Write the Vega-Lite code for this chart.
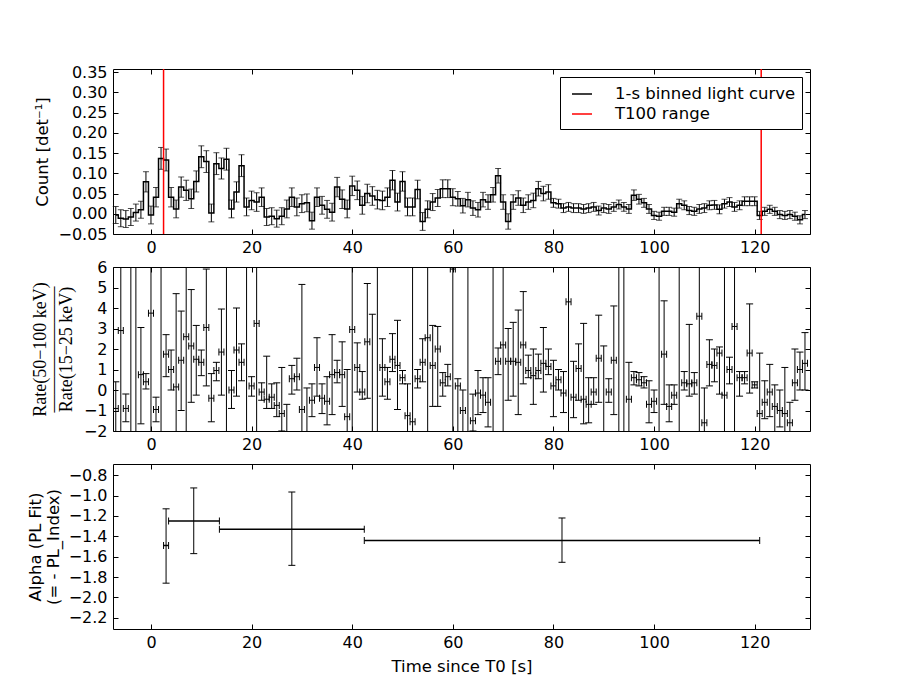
{
  "$schema": "https://vega.github.io/schema/vega-lite/v6.json",
  "background": "white",
  "padding": {"left": 26, "top": 63, "right": 5, "bottom": 5},
  "bounds": "flush",
  "spacing": 33,
  "datasets": {
    "lc": [
      {"t":-7,"c":-0.003,"e":0.021},{"t":-6,"c":-0.011,"e":0.021},{"t":-5,"c":-0.013,"e":0.021},{"t":-4,"c":-0.008,"e":0.021},
      {"t":-3,"c":0.003,"e":0.021},{"t":-2,"c":0.010,"e":0.021},{"t":-1,"c":0.079,"e":0.025},{"t":0,"c":-0.003,"e":0.022},
      {"t":1,"c":0.041,"e":0.024},{"t":2,"c":0.137,"e":0.027},{"t":3,"c":0.133,"e":0.027},{"t":4,"c":0.041,"e":0.024},
      {"t":5,"c":0.012,"e":0.022},{"t":6,"c":0.066,"e":0.025},{"t":7,"c":0.058,"e":0.025},{"t":8,"c":0.037,"e":0.024},
      {"t":9,"c":0.080,"e":0.026},{"t":10,"c":0.141,"e":0.027},{"t":11,"c":0.129,"e":0.027},{"t":12,"c":0.002,"e":0.022},
      {"t":13,"c":0.124,"e":0.027},{"t":14,"c":0.112,"e":0.026},{"t":15,"c":0.135,"e":0.027},{"t":16,"c":0.012,"e":0.022},
      {"t":17,"c":0.054,"e":0.025},{"t":18,"c":0.119,"e":0.027},{"t":19,"c":0.017,"e":0.022},{"t":20,"c":0.033,"e":0.023},
      {"t":21,"c":0.029,"e":0.023},{"t":22,"c":0.041,"e":0.023},{"t":23,"c":-0.008,"e":0.021},{"t":24,"c":-0.006,"e":0.021},
      {"t":25,"c":-0.012,"e":0.021},{"t":26,"c":-0.006,"e":0.021},{"t":27,"c":0.012,"e":0.022},{"t":28,"c":0.041,"e":0.023},
      {"t":29,"c":0.017,"e":0.022},{"t":30,"c":0.025,"e":0.022},{"t":31,"c":0.027,"e":0.022},{"t":32,"c":-0.017,"e":0.021},
      {"t":33,"c":0.041,"e":0.023},{"t":34,"c":0.021,"e":0.022},{"t":35,"c":0.011,"e":0.022},{"t":36,"c":0.004,"e":0.022},
      {"t":37,"c":0.066,"e":0.024},{"t":38,"c":0.036,"e":0.023},{"t":39,"c":0.012,"e":0.022},{"t":40,"c":0.069,"e":0.024},
      {"t":41,"c":0.058,"e":0.023},{"t":42,"c":0.021,"e":0.022},{"t":43,"c":0.050,"e":0.023},{"t":44,"c":0.044,"e":0.023},
      {"t":45,"c":0.035,"e":0.023},{"t":46,"c":0.033,"e":0.023},{"t":47,"c":0.041,"e":0.023},{"t":48,"c":0.083,"e":0.024},
      {"t":49,"c":0.029,"e":0.022},{"t":50,"c":0.080,"e":0.024},{"t":51,"c":0.017,"e":0.022},{"t":52,"c":0.017,"e":0.022},
      {"t":53,"c":0.060,"e":0.023},{"t":54,"c":-0.019,"e":0.022},{"t":55,"c":0.011,"e":0.021},{"t":56,"c":0.029,"e":0.021},
      {"t":57,"c":0.039,"e":0.021},{"t":58,"c":0.062,"e":0.022},{"t":59,"c":0.062,"e":0.022},{"t":60,"c":0.041,"e":0.021},
      {"t":61,"c":0.037,"e":0.018},{"t":62,"c":0.020,"e":0.018},{"t":63,"c":0.035,"e":0.018},{"t":64,"c":0.014,"e":0.018},
      {"t":65,"c":0.010,"e":0.018},{"t":66,"c":0.035,"e":0.018},{"t":67,"c":0.029,"e":0.018},{"t":68,"c":0.047,"e":0.018},
      {"t":69,"c":0.094,"e":0.018},{"t":70,"c":0.029,"e":0.018},{"t":71,"c":-0.019,"e":0.019},{"t":72,"c":0.029,"e":0.018},
      {"t":73,"c":0.039,"e":0.018},{"t":74,"c":0.021,"e":0.018},{"t":75,"c":0.029,"e":0.018},{"t":76,"c":0.033,"e":0.018},
      {"t":77,"c":0.062,"e":0.018},{"t":78,"c":0.050,"e":0.018},{"t":79,"c":0.054,"e":0.018},{"t":80,"c":0.027,"e":0.011},
      {"t":81,"c":0.025,"e":0.011},{"t":82,"c":0.014,"e":0.011},{"t":83,"c":0.017,"e":0.011},{"t":84,"c":0.014,"e":0.011},
      {"t":85,"c":0.014,"e":0.011},{"t":86,"c":0.012,"e":0.011},{"t":87,"c":0.014,"e":0.011},{"t":88,"c":0.017,"e":0.011},
      {"t":89,"c":0.008,"e":0.011},{"t":90,"c":0.014,"e":0.011},{"t":91,"c":0.012,"e":0.011},{"t":92,"c":0.017,"e":0.011},
      {"t":93,"c":0.023,"e":0.011},{"t":94,"c":0.017,"e":0.011},{"t":95,"c":0.012,"e":0.011},{"t":96,"c":0.046,"e":0.013},
      {"t":97,"c":0.036,"e":0.012},{"t":98,"c":0.027,"e":0.011},{"t":99,"c":0.012,"e":0.011},{"t":100,"c":-0.004,"e":0.010},
      {"t":101,"c":-0.006,"e":0.010},{"t":102,"c":0.006,"e":0.010},{"t":103,"c":0.006,"e":0.010},{"t":104,"c":0.004,"e":0.010},
      {"t":105,"c":0.025,"e":0.011},{"t":106,"c":0.021,"e":0.011},{"t":107,"c":0.008,"e":0.010},{"t":108,"c":0.006,"e":0.010},
      {"t":109,"c":0.012,"e":0.011},{"t":110,"c":0.014,"e":0.011},{"t":111,"c":0.021,"e":0.011},{"t":112,"c":0.022,"e":0.011},
      {"t":113,"c":0.011,"e":0.011},{"t":114,"c":0.025,"e":0.011},{"t":115,"c":0.029,"e":0.011},{"t":116,"c":0.017,"e":0.011},
      {"t":117,"c":0.021,"e":0.011},{"t":118,"c":0.031,"e":0.011},{"t":119,"c":0.031,"e":0.011},{"t":120,"c":0.031,"e":0.011},
      {"t":121,"c":-0.004,"e":0.010},{"t":122,"c":0.006,"e":0.010},{"t":123,"c":0.011,"e":0.010},{"t":124,"c":0.006,"e":0.010},
      {"t":125,"c":-0.002,"e":0.010},{"t":126,"c":-0.004,"e":0.010},{"t":127,"c":-0.002,"e":0.010},{"t":128,"c":-0.006,"e":0.010},
      {"t":129,"c":-0.015,"e":0.010},{"t":130,"c":-0.002,"e":0.010}
    ],
    "t100": [{"t": 2.5}, {"t": 121.3}],
    "hr": [
      {"t":-7,"t0":-7.5,"t1":-6.5,"v":-0.9,"lo":-10,"hi":0.4},{"t":-6,"t0":-6.5,"t1":-5.5,"v":2.9,"lo":-10,"hi":20},
      {"t":-5,"t0":-5.5,"t1":-4.5,"v":-0.9,"lo":-1.55,"hi":-0.2},{"t":-4,"t0":-4.5,"t1":-3.5,"v":8,"lo":-10,"hi":20},
      {"t":-3,"t0":-3.5,"t1":-2.5,"v":8,"lo":-10,"hi":20},{"t":-2,"t0":-2.5,"t1":-1.5,"v":0.75,"lo":-1.65,"hi":3.05},
      {"t":-1,"t0":-1.5,"t1":-0.5,"v":0.4,"lo":0.05,"hi":0.8},{"t":0,"t0":-0.5,"t1":0.5,"v":3.75,"lo":-10,"hi":20},
      {"t":1,"t0":0.5,"t1":1.5,"v":-0.95,"lo":-1.55,"hi":-0.35},{"t":2,"t0":1.5,"t1":2.5,"v":8,"lo":-10,"hi":20},
      {"t":3,"t0":2.5,"t1":3.5,"v":1.75,"lo":0.65,"hi":2.7},{"t":4,"t0":3.5,"t1":4.5,"v":1.0,"lo":0.0,"hi":1.95},
      {"t":5,"t0":4.5,"t1":5.5,"v":0.15,"lo":-10,"hi":4.7},{"t":6,"t0":5.5,"t1":6.5,"v":1.45,"lo":-1.0,"hi":3.85},
      {"t":7,"t0":6.5,"t1":7.5,"v":2.6,"lo":-10,"hi":20},{"t":8,"t0":7.5,"t1":8.5,"v":2.15,"lo":-0.6,"hi":4.9},
      {"t":9,"t0":8.5,"t1":9.5,"v":1.5,"lo":-0.25,"hi":3.15},{"t":10,"t0":9.5,"t1":10.5,"v":1.35,"lo":0.7,"hi":1.95},
      {"t":11,"t0":10.5,"t1":11.5,"v":3.05,"lo":0.2,"hi":5.9},{"t":12,"t0":11.5,"t1":12.5,"v":-0.4,"lo":-1.55,"hi":0.8},
      {"t":13,"t0":12.5,"t1":13.5,"v":0.95,"lo":0.45,"hi":1.35},{"t":14,"t0":13.5,"t1":14.5,"v":1.85,"lo":-0.25,"hi":3.95},
      {"t":15,"t0":14.5,"t1":15.5,"v":8,"lo":-10,"hi":20},{"t":16,"t0":15.5,"t1":16.5,"v":0.0,"lo":-0.9,"hi":0.95},
      {"t":17,"t0":16.5,"t1":17.5,"v":1.95,"lo":-0.3,"hi":4.0},{"t":18,"t0":17.5,"t1":18.5,"v":1.35,"lo":0.45,"hi":2.25},
      {"t":19,"t0":18.5,"t1":19.5,"v":8,"lo":-10,"hi":20},{"t":20,"t0":19.5,"t1":20.5,"v":0.2,"lo":-0.3,"hi":0.65},
      {"t":21,"t0":20.5,"t1":21.5,"v":3.25,"lo":-10,"hi":20},{"t":22,"t0":21.5,"t1":22.5,"v":-0.1,"lo":-0.5,"hi":0.35},
      {"t":23,"t0":22.5,"t1":23.5,"v":-0.45,"lo":-0.9,"hi":1.65},{"t":24,"t0":23.5,"t1":24.5,"v":-0.35,"lo":-0.9,"hi":0.3},
      {"t":25,"t0":24.5,"t1":25.5,"v":-0.75,"lo":-1.3,"hi":0.35},{"t":26,"t0":25.5,"t1":26.5,"v":-1.15,"lo":-2.0,"hi":1.1},
      {"t":27,"t0":26.5,"t1":27.5,"v":-2.3,"lo":-10,"hi":-0.7},{"t":28,"t0":27.5,"t1":28.5,"v":0.55,"lo":-0.2,"hi":1.2},
      {"t":29,"t0":28.5,"t1":29.5,"v":0.65,"lo":0.0,"hi":1.55},{"t":30,"t0":29.5,"t1":30.5,"v":-0.95,"lo":-10,"hi":5.15},
      {"t":31,"t0":30.5,"t1":31.5,"v":-2.5,"lo":-10,"hi":0.1},{"t":32,"t0":31.5,"t1":32.5,"v":-0.5,"lo":-1.3,"hi":0.3},
      {"t":33,"t0":32.5,"t1":33.5,"v":1.1,"lo":-0.3,"hi":2.55},{"t":34,"t0":33.5,"t1":34.5,"v":-0.4,"lo":-1.15,"hi":0.3},
      {"t":35,"t0":34.5,"t1":35.5,"v":-0.55,"lo":-1.7,"hi":0.65},{"t":36,"t0":35.5,"t1":36.5,"v":0.75,"lo":-1.2,"hi":2.7},
      {"t":37,"t0":36.5,"t1":37.5,"v":0.85,"lo":0.35,"hi":1.45},{"t":38,"t0":37.5,"t1":38.5,"v":0.75,"lo":-0.8,"hi":2.35},
      {"t":39,"t0":38.5,"t1":39.5,"v":-1.3,"lo":-10,"hi":1.0},{"t":40,"t0":39.5,"t1":40.5,"v":2.95,"lo":-10,"hi":20},
      {"t":41,"t0":40.5,"t1":41.5,"v":1.1,"lo":-0.1,"hi":2.3},{"t":42,"t0":41.5,"t1":42.5,"v":-0.1,"lo":-0.45,"hi":0.9},
      {"t":43,"t0":42.5,"t1":43.5,"v":2.35,"lo":-0.4,"hi":5.2},{"t":44,"t0":43.5,"t1":44.5,"v":-2.5,"lo":-10,"hi":3.7},
      {"t":45,"t0":44.5,"t1":45.5,"v":8,"lo":-10,"hi":20},{"t":46,"t0":45.5,"t1":46.5,"v":1.1,"lo":-0.3,"hi":2.5},
      {"t":47,"t0":46.5,"t1":47.5,"v":0.4,"lo":-0.45,"hi":1.1},{"t":48,"t0":47.5,"t1":48.5,"v":1.5,"lo":0.9,"hi":2.75},
      {"t":49,"t0":48.5,"t1":49.5,"v":1.2,"lo":-0.95,"hi":3.4},{"t":50,"t0":49.5,"t1":50.5,"v":0.6,"lo":0.3,"hi":0.95},
      {"t":51,"t0":50.5,"t1":51.5,"v":-1.25,"lo":-10,"hi":0.3},{"t":52,"t0":51.5,"t1":52.5,"v":-1.55,"lo":-10,"hi":20},
      {"t":53,"t0":52.5,"t1":53.5,"v":0.55,"lo":0.1,"hi":1.0},{"t":54,"t0":53.5,"t1":54.5,"v":1.35,"lo":0.4,"hi":2.5},
      {"t":55,"t0":54.5,"t1":55.5,"v":2.55,"lo":-10,"hi":20},{"t":56,"t0":55.5,"t1":56.5,"v":1.2,"lo":-0.8,"hi":3.15},
      {"t":57,"t0":56.5,"t1":57.5,"v":2.0,"lo":-0.8,"hi":3.1},{"t":58,"t0":57.5,"t1":58.5,"v":0.35,"lo":-0.3,"hi":0.85},
      {"t":59,"t0":58.5,"t1":59.5,"v":0.65,"lo":0.2,"hi":1.25},{"t":60,"t0":59.5,"t1":60.5,"v":5.9,"lo":-10,"hi":20},
      {"t":61,"t0":60.5,"t1":61.5,"v":0.2,"lo":-10,"hi":0.55},{"t":62,"t0":61.5,"t1":62.5,"v":-1.0,"lo":-10,"hi":0.0},
      {"t":63,"t0":62.5,"t1":63.5,"v":8,"lo":-10,"hi":20},{"t":64,"t0":63.5,"t1":64.5,"v":-1.5,"lo":-2.0,"hi":-0.2},
      {"t":65,"t0":64.5,"t1":65.5,"v":-0.15,"lo":-1.2,"hi":0.95},{"t":66,"t0":65.5,"t1":66.5,"v":-0.25,"lo":-1.1,"hi":0.6},
      {"t":67,"t0":66.5,"t1":67.5,"v":-0.6,"lo":-1.8,"hi":0.6},{"t":68,"t0":67.5,"t1":68.5,"v":8,"lo":-10,"hi":20},
      {"t":69,"t0":68.5,"t1":69.5,"v":1.4,"lo":0.75,"hi":2.05},{"t":70,"t0":69.5,"t1":70.5,"v":2.2,"lo":-10,"hi":20},
      {"t":71,"t0":70.5,"t1":71.5,"v":1.4,"lo":-0.5,"hi":3.0},{"t":72,"t0":71.5,"t1":72.5,"v":1.4,"lo":-0.3,"hi":3.3},
      {"t":73,"t0":72.5,"t1":73.5,"v":1.35,"lo":-1.2,"hi":3.9},{"t":74,"t0":73.5,"t1":74.5,"v":2.2,"lo":0.3,"hi":4.8},
      {"t":75,"t0":74.5,"t1":75.5,"v":0.95,"lo":0.6,"hi":1.7},{"t":76,"t0":75.5,"t1":76.5,"v":0.7,"lo":-0.7,"hi":2.0},
      {"t":77,"t0":76.5,"t1":77.5,"v":0.95,"lo":0.55,"hi":1.75},{"t":78,"t0":77.5,"t1":78.5,"v":1.3,"lo":-0.1,"hi":3.05},
      {"t":79,"t0":78.5,"t1":79.5,"v":1.15,"lo":0.75,"hi":2.0},{"t":80,"t0":79.5,"t1":80.5,"v":0.2,"lo":-1.3,"hi":1.45},
      {"t":81,"t0":80.5,"t1":81.5,"v":0.5,"lo":0.0,"hi":1.0},{"t":82,"t0":81.5,"t1":82.5,"v":-0.15,"lo":-1.1,"hi":0.9},
      {"t":83,"t0":82.5,"t1":83.5,"v":4.3,"lo":-10,"hi":20},{"t":84,"t0":83.5,"t1":84.5,"v":-0.35,"lo":-1.35,"hi":1.4},
      {"t":85,"t0":84.5,"t1":85.5,"v":1.05,"lo":-0.5,"hi":2.25},{"t":86,"t0":85.5,"t1":86.5,"v":-0.45,"lo":-1.65,"hi":3.25},
      {"t":87,"t0":86.5,"t1":87.5,"v":-0.7,"lo":-1.6,"hi":0.6},{"t":88,"t0":87.5,"t1":88.5,"v":-0.1,"lo":-0.7,"hi":0.6},
      {"t":89,"t0":88.5,"t1":89.5,"v":1.55,"lo":-0.6,"hi":3.65},{"t":90,"t0":89.5,"t1":90.5,"v":-3,"lo":-10,"hi":2.15},
      {"t":91,"t0":90.5,"t1":91.5,"v":-0.1,"lo":-0.6,"hi":0.55},{"t":92,"t0":91.5,"t1":92.5,"v":1.45,"lo":-1.2,"hi":4.1},
      {"t":93,"t0":92.5,"t1":93.5,"v":8,"lo":-10,"hi":20},{"t":94,"t0":93.5,"t1":94.5,"v":8,"lo":-10,"hi":20},
      {"t":95,"t0":94.5,"t1":95.5,"v":-0.45,"lo":-10,"hi":1.35},{"t":96,"t0":95.5,"t1":96.5,"v":0.6,"lo":0.25,"hi":0.9},
      {"t":97,"t0":96.5,"t1":97.5,"v":0.5,"lo":0.2,"hi":0.85},{"t":98,"t0":97.5,"t1":98.5,"v":0.35,"lo":0.1,"hi":0.65},
      {"t":99,"t0":98.5,"t1":99.5,"v":-0.7,"lo":-1.6,"hi":0.45},{"t":100,"t0":99.5,"t1":100.5,"v":-0.55,"lo":-1.1,"hi":0.0},
      {"t":101,"t0":100.5,"t1":101.5,"v":8,"lo":-10,"hi":20},{"t":102,"t0":101.5,"t1":102.5,"v":1.75,"lo":-0.7,"hi":4.35},
      {"t":103,"t0":102.5,"t1":103.5,"v":-0.8,"lo":-1.55,"hi":0.25},{"t":104,"t0":103.5,"t1":104.5,"v":-0.25,"lo":-0.7,"hi":0.25},
      {"t":105,"t0":104.5,"t1":105.5,"v":8,"lo":-10,"hi":20},{"t":106,"t0":105.5,"t1":106.5,"v":0.35,"lo":0.0,"hi":0.9},
      {"t":107,"t0":106.5,"t1":107.5,"v":0.3,"lo":-0.3,"hi":3.2},{"t":108,"t0":107.5,"t1":108.5,"v":0.35,"lo":-0.2,"hi":0.85},
      {"t":109,"t0":108.5,"t1":109.5,"v":3.6,"lo":-10,"hi":20},{"t":110,"t0":109.5,"t1":110.5,"v":-1.6,"lo":-10,"hi":0.1},
      {"t":111,"t0":110.5,"t1":111.5,"v":1.25,"lo":0.2,"hi":2.45},{"t":112,"t0":111.5,"t1":112.5,"v":1.2,"lo":0.4,"hi":2.0},
      {"t":113,"t0":112.5,"t1":113.5,"v":1.8,"lo":-0.2,"hi":2.1},{"t":114,"t0":113.5,"t1":114.5,"v":-0.25,"lo":-10,"hi":20},
      {"t":115,"t0":114.5,"t1":115.5,"v":1.0,"lo":0.3,"hi":1.6},{"t":116,"t0":115.5,"t1":116.5,"v":3.1,"lo":-10,"hi":20},
      {"t":117,"t0":116.5,"t1":117.5,"v":0.6,"lo":-0.3,"hi":0.9},{"t":118,"t0":117.5,"t1":118.5,"v":0.6,"lo":0.3,"hi":0.9},
      {"t":119,"t0":118.5,"t1":119.5,"v":1.8,"lo":-0.15,"hi":4.2},{"t":120,"t0":119.5,"t1":120.5,"v":0.25,"lo":0.1,"hi":0.4},
      {"t":121,"t0":120.5,"t1":121.5,"v":-1.15,"lo":-10,"hi":1.8},{"t":122,"t0":121.5,"t1":122.5,"v":-0.6,"lo":-1.4,"hi":0.45},
      {"t":123,"t0":122.5,"t1":123.5,"v":-0.1,"lo":-1.3,"hi":1.25},{"t":124,"t0":123.5,"t1":124.5,"v":-0.8,"lo":-10,"hi":0.25},
      {"t":125,"t0":124.5,"t1":125.5,"v":-1.0,"lo":-1.8,"hi":0.0},{"t":126,"t0":125.5,"t1":126.5,"v":-1.15,"lo":-10,"hi":1.1},
      {"t":127,"t0":126.5,"t1":127.5,"v":-1.6,"lo":-10,"hi":-0.6},{"t":128,"t0":127.5,"t1":128.5,"v":0.35,"lo":-0.5,"hi":2.0},
      {"t":129,"t0":128.5,"t1":129.5,"v":1.0,"lo":0.0,"hi":1.85},{"t":130,"t0":129.5,"t1":130.5,"v":1.3,"lo":0.0,"hi":2.8}
    ],
    "alpha": [
      {"t":3.0,"t0":2.5,"t1":3.5,"v":-1.49,"lo":-1.86,"hi":-1.13},
      {"t":8.5,"t0":3.5,"t1":13.6,"v":-1.25,"lo":-1.57,"hi":-0.925},
      {"t":28.0,"t0":13.6,"t1":42.4,"v":-1.33,"lo":-1.685,"hi":-0.965},
      {"t":81.7,"t0":42.4,"t1":121.0,"v":-1.44,"lo":-1.655,"hi":-1.22}
    ]
  },
  "vconcat": [
    {
      "width": 697,
      "height": 165,
      "data": {"name": "lc"},
      "layer": [
        {
          "mark": {"type": "line", "interpolate": "step", "strokeWidth": 1.5},
          "encoding": {
            "x": {"field": "t", "type": "quantitative", "scale": {"domain": [-7.55, 131], "nice": false, "zero": false},
                  "axis": {"orient": "bottom", "values": [0, 20, 40, 60, 80, 100, 120], "title": null}},
            "y": {"field": "c", "type": "quantitative", "scale": {"domain": [-0.05, 0.358], "nice": false, "zero": false},
                  "axis": {"orient": "left", "values": [-0.05, 0, 0.05, 0.1, 0.15, 0.2, 0.25, 0.3, 0.35], "format": ".2f",
                           "title": "Count [det⁻¹]", "titleX": -71, "titleBaseline": "middle", "titleAngle": -90}},
            "color": {
              "datum": "1-s binned light curve",
              "type": "nominal",
              "scale": {"domain": ["1-s binned light curve", "T100 range"], "range": ["#000000", "#ff0000"]},
              "legend": {
                "orient": "top-right", "offset": 8, "title": null,
                "strokeColor": "#000000", "fillColor": "#ffffff", "padding": 6, "cornerRadius": 0,
                "symbolType": "stroke", "symbolSize": 400, "symbolStrokeWidth": 1.5, "symbolOffset": 5,
                "labelOffset": 22, "labelFont": "DejaVu Sans", "labelFontSize": 16.5, "labelColor": "#000000",
                "rowPadding": 0, "labelLimit": 400
              }
            }
          }
        },
        {
          "mark": {"type": "errorbar", "color": "#000000", "thickness": 1, "ticks": {"size": 6}},
          "encoding": {
            "x": {"field": "t", "type": "quantitative", "scale": {"domain": [-7.55, 131], "nice": false, "zero": false}, "axis": null},
            "y": {"field": "c", "type": "quantitative", "scale": {"domain": [-0.05, 0.358], "nice": false, "zero": false}, "axis": null},
            "yError": {"field": "e"}
          }
        },
        {
          "data": {"name": "t100"},
          "mark": {"type": "rule", "strokeWidth": 1.5},
          "encoding": {
            "x": {"field": "t", "type": "quantitative", "scale": {"domain": [-7.55, 131], "nice": false, "zero": false}, "axis": null},
            "color": {"datum": "T100 range", "type": "nominal"}
          }
        },
        {
          "mark": {"type": "point", "opacity": 0},
          "encoding": {
            "x": {"field": "t", "type": "quantitative", "scale": {"domain": [-7.55, 131], "nice": false, "zero": false},
                  "axis": {"orient": "top", "labels": false, "values": [0, 20, 40, 60, 80, 100, 120], "title": null}},
            "y": {"field": "c", "type": "quantitative", "scale": {"domain": [-0.05, 0.358], "nice": false, "zero": false},
                  "axis": {"orient": "right", "labels": false, "values": [-0.05, 0, 0.05, 0.1, 0.15, 0.2, 0.25, 0.3, 0.35], "title": null}}
          }
        }
      ],
      "resolve": {"axis": {"x": "independent", "y": "independent"}}
    },
    {
      "width": 697,
      "height": 164,
      "data": {"name": "hr"},
      "layer": [
        {
          "mark": {"type": "rule", "color": "#000000", "strokeWidth": 1, "clip": true},
          "encoding": {
            "x": {"field": "t", "type": "quantitative", "scale": {"domain": [-7.55, 131], "nice": false, "zero": false},
                  "axis": {"orient": "bottom", "values": [0, 20, 40, 60, 80, 100, 120], "title": null}},
            "y": {"field": "lo", "type": "quantitative", "scale": {"domain": [-2, 6], "nice": false, "zero": false},
                  "axis": {"orient": "left", "values": [-2, -1, 0, 1, 2, 3, 4, 5, 6], "format": "d",
                           "title": ["Rate(50−100 keV)", "———————", "Rate(15−25 keV)"],
                           "titleFont": "Liberation Serif", "titleFontSize": 18, "titleLineHeight": 13,
                           "titleX": -73, "titleBaseline": "middle", "titleAngle": -90}},
            "y2": {"field": "hi"}
          }
        },
        {
          "mark": {"type": "rule", "color": "#000000", "strokeWidth": 1, "clip": true},
          "encoding": {
            "x": {"field": "t0", "type": "quantitative", "scale": {"domain": [-7.55, 131], "nice": false, "zero": false}, "axis": null},
            "x2": {"field": "t1"},
            "y": {"field": "v", "type": "quantitative", "scale": {"domain": [-2, 6], "nice": false, "zero": false}, "axis": null}
          }
        },
        {
          "mark": {"type": "tick", "orient": "horizontal", "size": 7, "thickness": 1, "color": "#000000", "opacity": 1, "clip": true},
          "encoding": {
            "x": {"field": "t", "type": "quantitative", "scale": {"domain": [-7.55, 131], "nice": false, "zero": false}, "axis": null},
            "y": {"field": "lo", "type": "quantitative", "scale": {"domain": [-2, 6], "nice": false, "zero": false}, "axis": null}
          }
        },
        {
          "mark": {"type": "tick", "orient": "horizontal", "size": 7, "thickness": 1, "color": "#000000", "opacity": 1, "clip": true},
          "encoding": {
            "x": {"field": "t", "type": "quantitative", "scale": {"domain": [-7.55, 131], "nice": false, "zero": false}, "axis": null},
            "y": {"field": "hi", "type": "quantitative", "scale": {"domain": [-2, 6], "nice": false, "zero": false}, "axis": null}
          }
        },
        {
          "mark": {"type": "tick", "orient": "vertical", "size": 7, "thickness": 1, "color": "#000000", "opacity": 1, "clip": true},
          "encoding": {
            "x": {"field": "t0", "type": "quantitative", "scale": {"domain": [-7.55, 131], "nice": false, "zero": false}, "axis": null},
            "y": {"field": "v", "type": "quantitative", "scale": {"domain": [-2, 6], "nice": false, "zero": false}, "axis": null}
          }
        },
        {
          "mark": {"type": "tick", "orient": "vertical", "size": 7, "thickness": 1, "color": "#000000", "opacity": 1, "clip": true},
          "encoding": {
            "x": {"field": "t1", "type": "quantitative", "scale": {"domain": [-7.55, 131], "nice": false, "zero": false}, "axis": null},
            "y": {"field": "v", "type": "quantitative", "scale": {"domain": [-2, 6], "nice": false, "zero": false}, "axis": null}
          }
        },
        {
          "mark": {"type": "point", "opacity": 0, "clip": true},
          "encoding": {
            "x": {"field": "t", "type": "quantitative", "scale": {"domain": [-7.55, 131], "nice": false, "zero": false},
                  "axis": {"orient": "top", "labels": false, "values": [0, 20, 40, 60, 80, 100, 120], "title": null}},
            "y": {"field": "v", "type": "quantitative", "scale": {"domain": [-2, 6], "nice": false, "zero": false},
                  "axis": {"orient": "right", "labels": false, "values": [-2, -1, 0, 1, 2, 3, 4, 5, 6], "title": null}}
          }
        }
      ],
      "resolve": {"axis": {"x": "independent", "y": "independent"}}
    },
    {
      "width": 697,
      "height": 165,
      "data": {"name": "alpha"},
      "layer": [
        {
          "mark": {"type": "rule", "color": "#000000", "strokeWidth": 1, "clip": true},
          "encoding": {
            "x": {"field": "t", "type": "quantitative", "scale": {"domain": [-7.55, 131], "nice": false, "zero": false},
                  "axis": {"orient": "bottom", "values": [0, 20, 40, 60, 80, 100, 120], "title": "Time since T0 [s]", "titlePadding": 8}},
            "y": {"field": "lo", "type": "quantitative", "scale": {"domain": [-2.31, -0.69], "nice": false, "zero": false},
                  "axis": {"orient": "left", "values": [-2.2, -2.0, -1.8, -1.6, -1.4, -1.2, -1.0, -0.8], "format": ".1f",
                           "title": ["Alpha (PL Fit)", "(= - PL_Index)"], "titleLineHeight": 18,
                           "titleX": -78, "titleBaseline": "middle", "titleAngle": -90}},
            "y2": {"field": "hi"}
          }
        },
        {
          "mark": {"type": "rule", "color": "#000000", "strokeWidth": 1.5, "clip": true},
          "encoding": {
            "x": {"field": "t0", "type": "quantitative", "scale": {"domain": [-7.55, 131], "nice": false, "zero": false}, "axis": null},
            "x2": {"field": "t1"},
            "y": {"field": "v", "type": "quantitative", "scale": {"domain": [-2.31, -0.69], "nice": false, "zero": false}, "axis": null}
          }
        },
        {
          "mark": {"type": "tick", "orient": "horizontal", "size": 7, "thickness": 1, "color": "#000000", "opacity": 1, "clip": true},
          "encoding": {
            "x": {"field": "t", "type": "quantitative", "scale": {"domain": [-7.55, 131], "nice": false, "zero": false}, "axis": null},
            "y": {"field": "lo", "type": "quantitative", "scale": {"domain": [-2.31, -0.69], "nice": false, "zero": false}, "axis": null}
          }
        },
        {
          "mark": {"type": "tick", "orient": "horizontal", "size": 7, "thickness": 1, "color": "#000000", "opacity": 1, "clip": true},
          "encoding": {
            "x": {"field": "t", "type": "quantitative", "scale": {"domain": [-7.55, 131], "nice": false, "zero": false}, "axis": null},
            "y": {"field": "hi", "type": "quantitative", "scale": {"domain": [-2.31, -0.69], "nice": false, "zero": false}, "axis": null}
          }
        },
        {
          "mark": {"type": "tick", "orient": "vertical", "size": 7, "thickness": 1, "color": "#000000", "opacity": 1, "clip": true},
          "encoding": {
            "x": {"field": "t0", "type": "quantitative", "scale": {"domain": [-7.55, 131], "nice": false, "zero": false}, "axis": null},
            "y": {"field": "v", "type": "quantitative", "scale": {"domain": [-2.31, -0.69], "nice": false, "zero": false}, "axis": null}
          }
        },
        {
          "mark": {"type": "tick", "orient": "vertical", "size": 7, "thickness": 1, "color": "#000000", "opacity": 1, "clip": true},
          "encoding": {
            "x": {"field": "t1", "type": "quantitative", "scale": {"domain": [-7.55, 131], "nice": false, "zero": false}, "axis": null},
            "y": {"field": "v", "type": "quantitative", "scale": {"domain": [-2.31, -0.69], "nice": false, "zero": false}, "axis": null}
          }
        },
        {
          "mark": {"type": "point", "opacity": 0, "clip": true},
          "encoding": {
            "x": {"field": "t", "type": "quantitative", "scale": {"domain": [-7.55, 131], "nice": false, "zero": false},
                  "axis": {"orient": "top", "labels": false, "values": [0, 20, 40, 60, 80, 100, 120], "title": null}},
            "y": {"field": "v", "type": "quantitative", "scale": {"domain": [-2.31, -0.69], "nice": false, "zero": false},
                  "axis": {"orient": "right", "labels": false, "values": [-2.2, -2.0, -1.8, -1.6, -1.4, -1.2, -1.0, -0.8], "title": null}}
          }
        }
      ],
      "resolve": {"axis": {"x": "independent", "y": "independent"}}
    }
  ],
  "config": {
    "view": {"stroke": "#000000", "strokeWidth": 1},
    "font": "DejaVu Sans",
    "axis": {
      "grid": false, "domain": false, "ticks": true, "tickColor": "#000000", "tickWidth": 1, "tickSize": -5,
      "labelFont": "DejaVu Sans", "labelFontSize": 16, "labelColor": "#000000", "labelOverlap": false, "labelFlush": false,
      "titleFont": "DejaVu Sans", "titleFontSize": 16.5, "titleFontWeight": "normal", "titleColor": "#000000"
    },
    "axisX": {"labelPadding": 10},
    "axisY": {"labelPadding": 11}
  }
}
